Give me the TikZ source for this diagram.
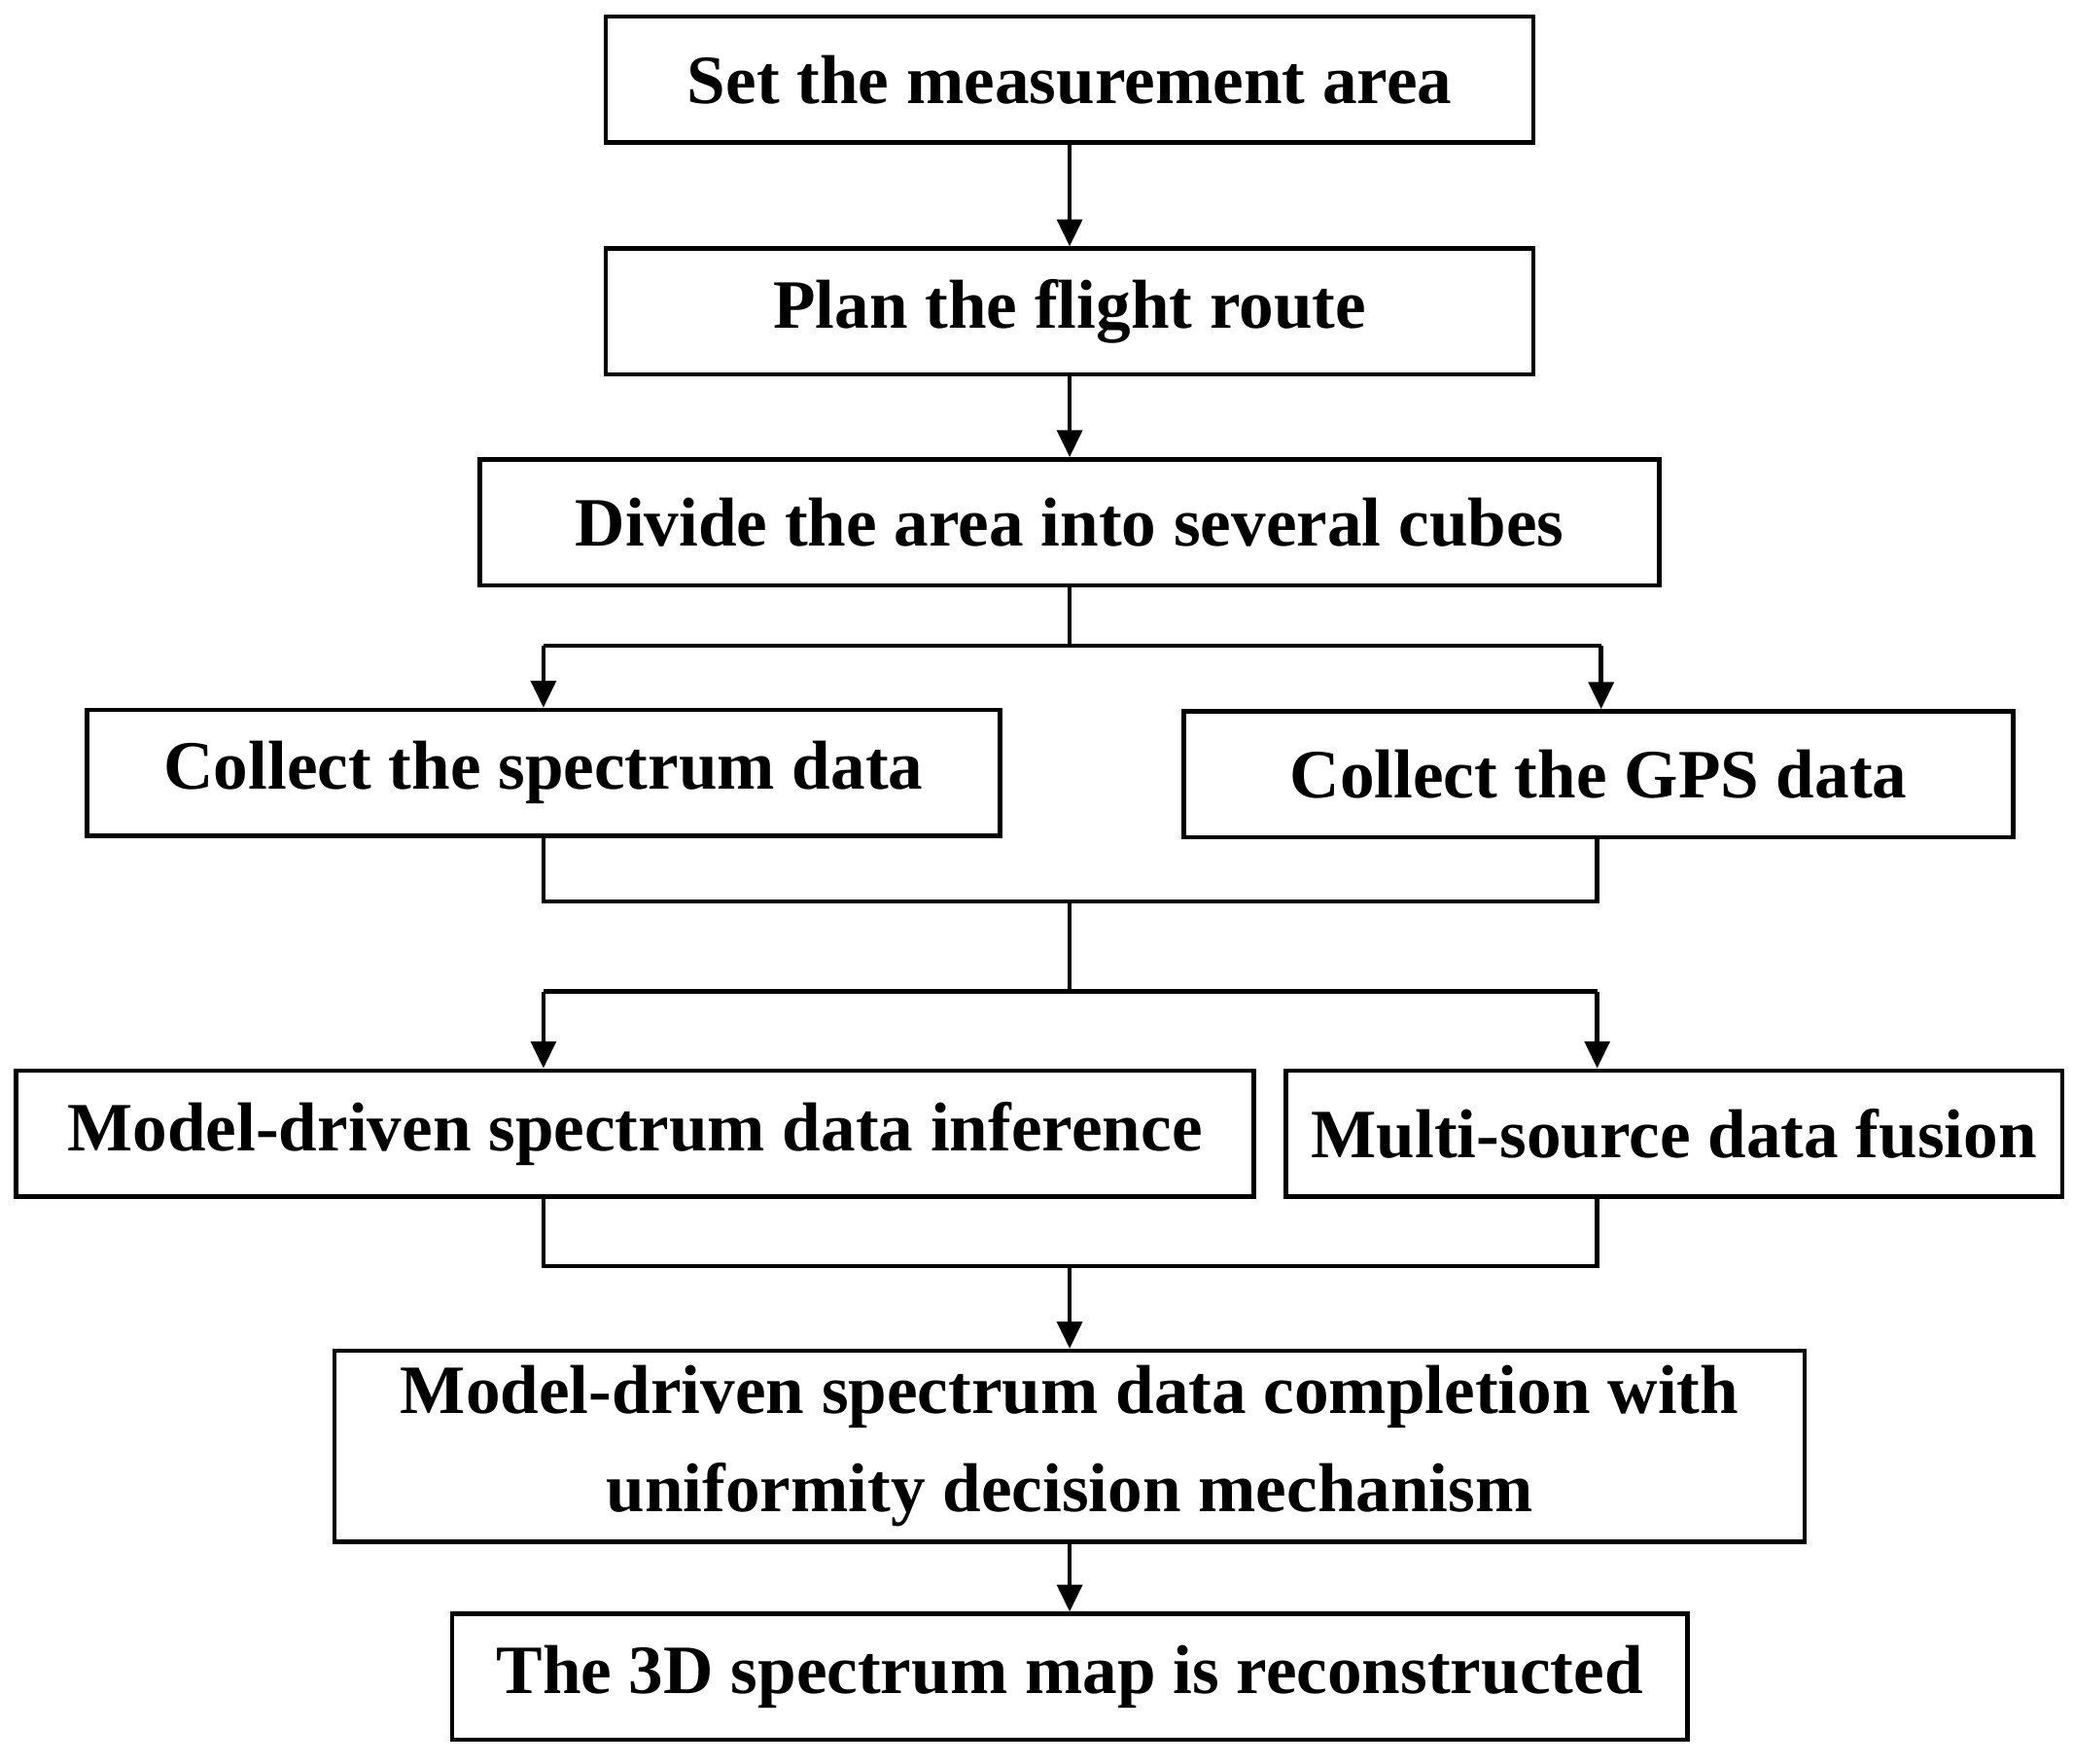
\documentclass[tikz,border=0pt]{standalone}
\usepackage{fontspec}
\setmainfont{Liberation Serif}
\usetikzlibrary{arrows.meta}
\tikzset{
	stage/.style={draw, line width=1.2pt, minimum height=95*0.01279cm, inner sep=0pt, font=\fontsize{19}{23}\selectfont\bfseries, align=center},
	flow/.style={line width=1.2pt},
	arr/.style={flow, -{Triangle[length=0.26cm, width=0.24cm]}}
}
\begin{document}
\begin{tikzpicture}[x=0.01279cm, y=-0.01279cm]
	\useasboundingbox (0,0) rectangle (1564,1330);
	
	%steps
	\node[stage, minimum width=700*0.01279cm] (s1) at (807,60){Set the measurement area};
	\node[stage, minimum width=700*0.01279cm] (s2) at (807,235){Plan the flight route};
	\node[stage, minimum width=890*0.01279cm] (s3) at (807,394){Divide the area into several cubes};
	\node[stage, minimum width=689*0.01279cm] (s4) at (410,583){Collect the spectrum data};
	\node[stage, minimum width=626*0.01279cm] (s5) at (1206,584){Collect the GPS data};
	\node[stage, minimum width=934*0.01279cm] (s6) at (479,855){Model-driven spectrum data inference};
	\node[stage, minimum width=586*0.01279cm] (s7) at (1263,855){Multi-source data fusion};
	\node[stage, minimum width=1109*0.01279cm, minimum height=144*0.01279cm] (s8) at (807,1091){Model-driven spectrum data completion with\\[4pt]uniformity decision mechanism};
	\node[stage, minimum width=932*0.01279cm] (s9) at (807,1265){The 3D spectrum map is reconstructed};
	
	%junctions
	\coordinate (j3) at (807,487);
	\coordinate (j3l) at (410,487);
	\coordinate (j3r) at (1208,487);
	\coordinate (j4) at (410,680);
	\coordinate (j5) at (1205,680);
	\coordinate (jm) at (807,680);
	\coordinate (jb) at (807,748);
	\coordinate (jbl) at (410,748);
	\coordinate (jbr) at (1205,748);
	\coordinate (j6) at (410,955);
	\coordinate (j7) at (1205,955);
	\coordinate (jn) at (807,955);
	
	\draw[arr] (s1) -- (s2);
	\draw[arr] (s2) -- (s3);
	
	\draw[flow] (s3) -- (j3);
	\draw[flow] (j3l) -- (j3r);
	\draw[arr] (j3l) -- (j3l |- s4.north);
	\draw[arr] (j3r) -- (j3r |- s5.north);
	
	\draw[flow] (j4 |- s4.south) -- (j4) -- (j5) -- (j5 |- s5.south);
	\draw[flow] (jm) -- (jb);
	\draw[flow] (jbl) -- (jbr);
	\draw[arr] (jbl) -- (jbl |- s6.north);
	\draw[arr] (jbr) -- (jbr |- s7.north);
	
	\draw[flow] (j6 |- s6.south) -- (j6) -- (j7) -- (j7 |- s7.south);
	\draw[arr] (jn) -- (s8);
	\draw[arr] (s8) -- (s9);
	
\end{tikzpicture}
\end{document}
